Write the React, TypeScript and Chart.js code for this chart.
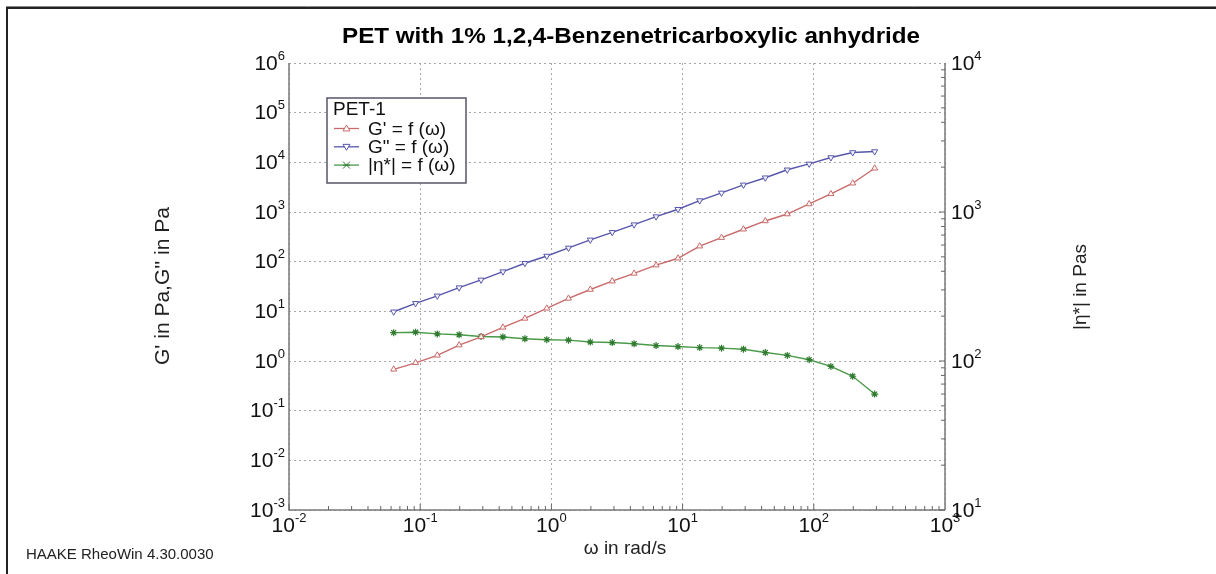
import React, { useEffect, useRef } from "react";
import { Chart, registerables } from "chart.js";

Chart.register(...registerables);

// ω in rad/s
const omega = [0.0628, 0.0922, 0.135, 0.198, 0.291, 0.427, 0.628, 0.922, 1.35, 1.98, 2.91, 4.27, 6.28, 9.22, 13.5, 19.8, 29.1, 42.7, 62.8, 92.2, 135, 198, 291];
// G' in Pa
const gPrime = [0.68, 0.92, 1.3, 2.09, 3.07, 4.76, 7.2, 11.5, 18.2, 27.5, 40.5, 58, 85, 117, 205, 305, 450, 660, 910, 1450, 2320, 3800, 7600];
// G'' in Pa
const gDoublePrime = [9.8, 14.5, 20.5, 30, 43, 63, 93, 130, 189, 275, 390, 556, 807, 1137, 1700, 2420, 3520, 4900, 7080, 9300, 12500, 15800, 16500];
// |η*| in Pas
const etaStar = [155, 156, 152, 150, 146, 145, 141, 139, 138, 134, 133, 130.5, 127, 125, 123, 122, 120, 114, 109, 102, 92, 79, 60];

const xExponents = [-2, -1, 0, 1, 2, 3];
const yExponents = [-3, -2, -1, 0, 1, 2, 3, 4, 5, 6];
const y1Exponents = [1, 2, 3, 4];

const titleText = "PET with 1% 1,2,4-Benzenetricarboxylic anhydride";
const xTitle = "ω in rad/s";
const yTitle = "G' in Pa,G'' in Pa";
const y1Title = "|η*| in Pas";
const legendTitle = "PET-1";
const seriesLabels = ["G' = f (ω)", 'G" = f (ω)', "|η*| = f (ω)"];
const footerText = "HAAKE RheoWin 4.30.0030";

const RED = "#c86a6a";
const BLUE = "#5656aa";
const GREEN = "#4a9a4a";
const GREEN_DARK = "#2f7a2f";
const FONT = '"Liberation Sans", Arial, sans-serif';

function drawPow(ctx: CanvasRenderingContext2D, e: number, x: number, y: number, align: string) {
  const base = "10";
  const exp = String(e);
  ctx.font = `21px ${FONT}`;
  const bw = ctx.measureText(base).width;
  ctx.font = `13px ${FONT}`;
  const ew = ctx.measureText(exp).width;
  const total = bw + ew;
  let sx = x;
  if (align === "right") sx = x - total;
  else if (align === "center") sx = x - total / 2;
  ctx.fillStyle = "#111";
  ctx.textAlign = "left";
  ctx.textBaseline = "middle";
  ctx.font = `21px ${FONT}`;
  ctx.fillText(base, sx, y);
  ctx.font = `13px ${FONT}`;
  ctx.fillText(exp, sx + bw, y - 8);
}

function drawMarker(ctx: CanvasRenderingContext2D, kind: string, x: number, y: number, color: string) {
  const r = 3.5;
  ctx.save();
  ctx.strokeStyle = color;
  ctx.fillStyle = "#fff";
  ctx.lineWidth = 1;
  ctx.beginPath();
  if (kind === "up") {
    ctx.moveTo(x, y - r);
    ctx.lineTo(x + r, y + r * 0.7);
    ctx.lineTo(x - r, y + r * 0.7);
    ctx.closePath();
    ctx.fill();
    ctx.stroke();
  } else if (kind === "down") {
    ctx.moveTo(x, y + r);
    ctx.lineTo(x + r, y - r * 0.7);
    ctx.lineTo(x - r, y - r * 0.7);
    ctx.closePath();
    ctx.fill();
    ctx.stroke();
  } else {
    ctx.moveTo(x - r, y - r);
    ctx.lineTo(x + r, y + r);
    ctx.moveTo(x + r, y - r);
    ctx.lineTo(x - r, y + r);
    ctx.moveTo(x - r, y);
    ctx.lineTo(x + r, y);
    ctx.stroke();
  }
  ctx.restore();
}

function fitText(ctx: CanvasRenderingContext2D, text: string, cx: number, cy: number, width: number) {
  const w = ctx.measureText(text).width;
  ctx.save();
  ctx.translate(cx, cy);
  ctx.scale(width / w, 1);
  ctx.textAlign = "center";
  ctx.fillText(text, 0, 0);
  ctx.restore();
}

const decorPlugin = {
  id: "decor",
  afterDraw(chart: any) {
    const ctx: CanvasRenderingContext2D = chart.ctx;
    const xs = chart.scales.x;
    const ys = chart.scales.y;
    const y1s = chart.scales.y1;
    const a = chart.chartArea;
    ctx.save();

    // frame (top + left)
    ctx.strokeStyle = "#8a8a8a";
    ctx.lineWidth = 1;
    ctx.beginPath();
    ctx.moveTo(6, 6.5);
    ctx.lineTo(1216, 6.5);
    ctx.stroke();
    ctx.strokeStyle = "#222";
    ctx.lineWidth = 2;
    ctx.beginPath();
    ctx.moveTo(7, 574);
    ctx.lineTo(7, 8);
    ctx.lineTo(1216, 8);
    ctx.stroke();

    // axis lines
    ctx.strokeStyle = "#7a7a7a";
    ctx.lineWidth = 1.5;
    ctx.beginPath();
    ctx.moveTo(a.left, a.top);
    ctx.lineTo(a.left, a.bottom);
    ctx.lineTo(a.right, a.bottom);
    ctx.moveTo(a.right, a.top);
    ctx.lineTo(a.right, a.bottom);
    ctx.stroke();

    // minor / major ticks bottom
    ctx.lineWidth = 1;
    ctx.strokeStyle = "#666";
    ctx.beginPath();
    for (let e = -2; e < 3; e++) {
      for (let m = 1; m < 10; m++) {
        const px = xs.getPixelForValue(m * Math.pow(10, e));
        const len = m === 1 ? 6 : 4;
        ctx.moveTo(px, a.bottom);
        ctx.lineTo(px, a.bottom - len);
      }
    }
    // right axis ticks
    for (let e = 1; e < 4; e++) {
      for (let m = 1; m < 10; m++) {
        const py = y1s.getPixelForValue(m * Math.pow(10, e));
        const len = m === 1 ? 6 : 4;
        ctx.moveTo(a.right, py);
        ctx.lineTo(a.right - len, py);
      }
    }
    ctx.stroke();

    // tick labels
    yExponents.forEach((e) => drawPow(ctx, e, 285, ys.getPixelForValue(Math.pow(10, e)) + 1, "right"));
    y1Exponents.forEach((e) => drawPow(ctx, e, 951, y1s.getPixelForValue(Math.pow(10, e)) + 1, "left"));
    xExponents.forEach((e) => drawPow(ctx, e, xs.getPixelForValue(Math.pow(10, e)), a.bottom + 16, "center"));

    // title
    ctx.fillStyle = "#000";
    ctx.textAlign = "center";
    ctx.textBaseline = "middle";
    ctx.font = `bold 22px ${FONT}`;
    fitText(ctx, titleText, 631, 37, 578);

    // axis titles
    ctx.font = `19px ${FONT}`;
    ctx.fillStyle = "#222";
    ctx.textAlign = "center";
    ctx.fillText(xTitle, 625, 549);
    ctx.save();
    ctx.translate(163, 286);
    ctx.rotate(-Math.PI / 2);
    ctx.font = `21px ${FONT}`;
    ctx.fillText(yTitle, 0, 0);
    ctx.restore();
    ctx.save();
    ctx.translate(1081, 287);
    ctx.rotate(-Math.PI / 2);
    ctx.font = `19px ${FONT}`;
    ctx.fillText(y1Title, 0, 0);
    ctx.restore();

    // footer
    ctx.textAlign = "left";
    ctx.font = `15px ${FONT}`;
    ctx.fillStyle = "#222";
    ctx.fillText(footerText, 26, 555);

    // legend
    const lx = 327, ly = 98, lw = 139, lh = 85;
    ctx.fillStyle = "#fff";
    ctx.fillRect(lx, ly, lw, lh);
    ctx.strokeStyle = "#55556a";
    ctx.lineWidth = 1.5;
    ctx.strokeRect(lx, ly, lw, lh);
    ctx.fillStyle = "#111";
    ctx.font = `19px ${FONT}`;
    ctx.textBaseline = "middle";
    ctx.fillText(legendTitle, 333, 110);
    const colors = [RED, BLUE, GREEN];
    const kinds = ["up", "down", "star"];
    seriesLabels.forEach((lab, i) => {
      const yy = 128.5 + i * 18.3;
      ctx.strokeStyle = colors[i];
      ctx.lineWidth = 1.3;
      ctx.beginPath();
      ctx.moveTo(334, yy);
      ctx.lineTo(359, yy);
      ctx.stroke();
      drawMarker(ctx, kinds[i], 346.5, yy, i === 2 ? GREEN_DARK : colors[i]);
      ctx.fillStyle = "#111";
      ctx.font = `19px ${FONT}`;
      ctx.fillText(lab, 368, yy + 1);
    });

    ctx.restore();
  },
};

const decadeFilter = (scale: any) => {
  scale.ticks = scale.ticks.filter((t: any) => {
    const l = Math.log10(t.value);
    return Math.abs(l - Math.round(l)) < 1e-6;
  });
};

export default function App() {
  const ref = useRef<HTMLCanvasElement | null>(null);
  useEffect(() => {
    document.body.style.margin = "0";
    const canvas = ref.current;
    if (!canvas) return;
    const mk = (vals: number[]) => omega.map((w, i) => ({ x: w, y: vals[i] }));
    const chart = new Chart(canvas, {
      type: "line",
      data: {
        datasets: [
          {
            label: seriesLabels[0],
            data: mk(gPrime),
            borderColor: RED,
            backgroundColor: "#fff",
            pointBackgroundColor: "rgba(255,255,255,0.9)",
            pointBorderColor: RED,
            pointStyle: "triangle",
            pointRadius: 3.5,
            pointBorderWidth: 1,
            borderWidth: 1.4,
            yAxisID: "y",
          },
          {
            label: seriesLabels[1],
            data: mk(gDoublePrime),
            borderColor: BLUE,
            backgroundColor: "#fff",
            pointBackgroundColor: "rgba(255,255,255,0.9)",
            pointBorderColor: BLUE,
            pointStyle: "triangle",
            rotation: 180,
            pointRadius: 3.5,
            pointBorderWidth: 1,
            borderWidth: 1.4,
            yAxisID: "y",
          },
          {
            label: seriesLabels[2],
            data: mk(etaStar),
            borderColor: GREEN,
            backgroundColor: GREEN_DARK,
            pointBorderColor: GREEN_DARK,
            pointStyle: "star",
            pointRadius: 3.5,
            pointBorderWidth: 1.2,
            borderWidth: 1.4,
            yAxisID: "y1",
          },
        ],
      },
      options: {
        responsive: false,
        animation: false,
        layout: { padding: { left: 289, right: 1216 - 945, top: 63, bottom: 574 - 510 } },
        plugins: { legend: { display: false }, tooltip: { enabled: false }, title: { display: false } },
        scales: {
          x: {
            type: "logarithmic",
            min: 0.01,
            max: 1000,
            position: "bottom",
            ticks: { display: false },
            grid: { color: "#a8a8a8", lineWidth: 1, drawTicks: false },
            border: { display: false, dash: [2, 3] },
            afterBuildTicks: decadeFilter,
            afterFit: (s: any) => {
              s.height = 0;
            },
          },
          y: {
            type: "logarithmic",
            min: 1e-3,
            max: 1e6,
            position: "left",
            ticks: { display: false },
            grid: { color: "#a8a8a8", lineWidth: 1, drawTicks: false },
            border: { display: false, dash: [2, 3] },
            afterBuildTicks: decadeFilter,
            afterFit: (s: any) => {
              s.width = 0;
            },
          },
          y1: {
            type: "logarithmic",
            min: 10,
            max: 10000,
            position: "right",
            ticks: { display: false },
            grid: { display: false, drawTicks: false },
            border: { display: false },
            afterFit: (s: any) => {
              s.width = 0;
            },
          },
        },
      } as any,
      plugins: [decorPlugin],
    });
    return () => chart.destroy();
  }, []);
  return (
    <div style={{ width: 1216, height: 574, background: "#fff" }}>
      <canvas ref={ref} width={1216} height={574} style={{ display: "block" }} />
    </div>
  );
}
